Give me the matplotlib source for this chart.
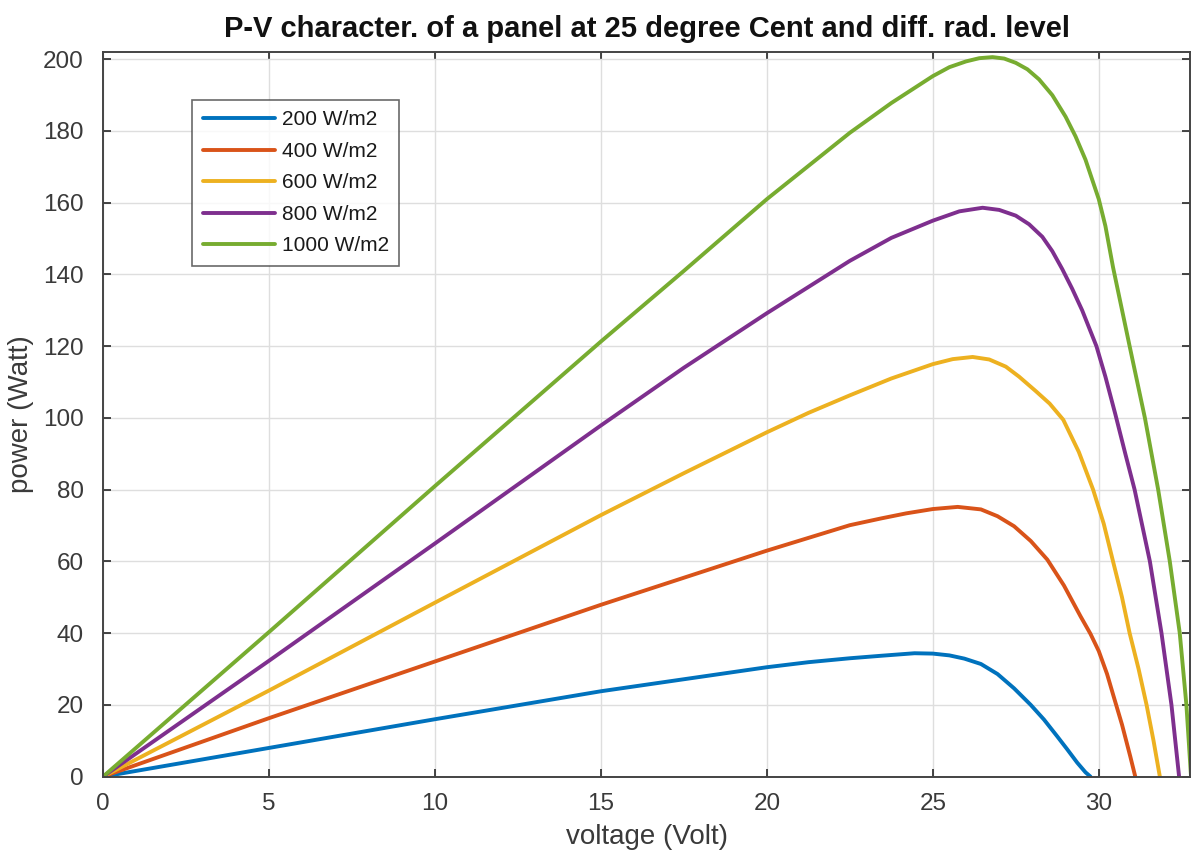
import matplotlib
matplotlib.use("Agg")
import matplotlib.pyplot as plt

plt.rcParams['font.family'] = ['Liberation Sans', 'DejaVu Sans']

# values (voltage in V, power in W)
labels = ['200 W/m2', '400 W/m2', '600 W/m2', '800 W/m2', '1000 W/m2']
colors = ['#0072BD', '#D95319', '#EDB120', '#7E2F8E', '#77AC30']

v_200 = [0, 5, 10, 15, 20, 21.25, 22.5, 23.45, 24.45, 25, 25.5, 25.95, 26.45, 26.95,
         27.45, 27.95, 28.35, 28.75, 29.05, 29.35, 29.6, 29.75]
p_200 = [0, 8.0, 16.0, 23.8, 30.5, 31.9, 33.0, 33.7, 34.4, 34.3, 33.8, 32.9, 31.4, 28.6,
         24.6, 20.0, 15.9, 11.2, 7.6, 3.9, 1.2, 0]

v_400 = [0, 5, 10, 15, 20, 22.5, 23.45, 24.2, 25, 25.75, 26.45, 26.95, 27.45, 27.95,
         28.45, 28.95, 29.45, 29.75, 30.0, 30.25, 30.45, 30.7, 30.95, 31.1]
p_400 = [0, 16.3, 32.1, 47.9, 63.0, 70.1, 72.0, 73.4, 74.6, 75.2, 74.5, 72.6, 69.8, 65.7,
         60.5, 53.3, 44.7, 39.8, 35.0, 28.6, 22.3, 14.5, 5.6, 0]

v_600 = [0, 5, 10, 15, 17.5, 20, 21.25, 22.5, 23.75, 25, 25.6, 26.2, 26.7, 27.2, 27.6,
         28.1, 28.52, 28.93, 29.4, 29.83, 30.15, 30.43, 30.7, 30.93, 31.2, 31.44, 31.65,
         31.84]
p_600 = [0, 24.0, 48.5, 72.9, 84.6, 96.0, 101.4, 106.3, 111.0, 115.0, 116.4, 117.0, 116.3,
         114.3, 111.5, 107.5, 104.0, 99.5, 90.5, 80, 70.5, 60, 50, 40, 30, 20, 10, 0]

v_800 = [0, 5, 10, 15, 17.5, 20, 22.5, 23.75, 25, 25.8, 26.5, 27.0, 27.5, 27.9, 28.3,
         28.6, 28.9, 29.2, 29.5, 29.93, 30.2, 30.5, 30.8, 31.08, 31.54, 31.89, 32.19, 32.42]
p_800 = [0, 32.3, 65, 97.9, 114.0, 129.2, 143.8, 150.2, 155.0, 157.6, 158.6, 158.0, 156.4,
         154.0, 150.5, 146.5, 141.5, 136.0, 130.0, 120.0, 111.5, 101.0, 90.0, 80, 60, 40,
         20, 0]

v_1000 = [0, 5, 10, 15, 17.5, 20, 22.5, 23.75, 25, 25.5, 26, 26.4, 26.8, 27.15, 27.5,
          27.85, 28.2, 28.6, 29.0, 29.3, 29.6, 30.0, 30.2, 30.43, 30.93, 31.39, 31.79,
          32.14, 32.44, 32.64, 32.78]
p_1000 = [0, 40.3, 81, 121.3, 141, 161, 179.5, 187.8, 195.3, 197.8, 199.4, 200.3, 200.6,
          200.2, 199.0, 197.2, 194.4, 190.0, 184, 178.5, 172, 161, 153.5, 142, 120, 100,
          80, 60, 40, 20, 0]

voltages = [v_200, v_400, v_600, v_800, v_1000]
powers = [p_200, p_400, p_600, p_800, p_1000]

fig = plt.figure(figsize=(11.91, 8.61), dpi=100)
ax = fig.add_axes([0.0865, 0.098, 0.9127, 0.8415])

for v, p, c, lab in zip(voltages, powers, colors, labels):
    ax.plot(v, p, color=c, linewidth=2.8, label=lab,
            solid_joinstyle='round', solid_capstyle='round')

ax.set_xlim(0, 32.75)
ax.set_ylim(0, 202)
ax.set_xticks([0, 5, 10, 15, 20, 25, 30])
ax.set_yticks(range(0, 201, 20))

ax.grid(True, color='#dedede', linewidth=1.0)
ax.set_axisbelow(True)
ax.tick_params(direction='in', top=True, right=True, length=6, width=1.2,
               labelsize=17.5, colors='#262626', labelcolor='#3a3a3a')
ax.tick_params(axis='y', pad=14)
ax.tick_params(axis='x', pad=12)
for s in ax.spines.values():
    s.set_color('#444444')
    s.set_linewidth(1.4)

ax.set_xlabel('voltage (Volt)', fontsize=20, color='#3a3a3a', labelpad=6)
ax.set_ylabel('power (Watt)', fontsize=20, color='#3a3a3a', labelpad=6)
ax.set_title('P-V character. of a panel at 25 degree Cent and diff. rad. level',
             fontsize=21, fontweight='bold', color='#111111', pad=11)

leg = ax.legend(loc='upper left', bbox_to_anchor=(0.082, 0.934), fontsize=15,
                frameon=True, fancybox=False, handlelength=3.5, handletextpad=0.3,
                labelspacing=0.6, borderpad=0.5, borderaxespad=0)
leg.get_frame().set_edgecolor('#444444')
leg.get_frame().set_linewidth(1.2)
for t in leg.get_texts():
    t.set_color('#1a1a1a')

fig.savefig('out.png', dpi=100)
